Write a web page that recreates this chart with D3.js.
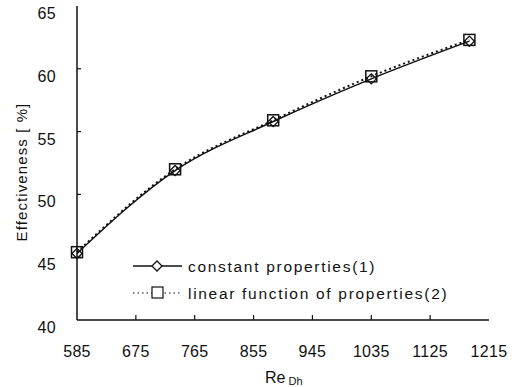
<!DOCTYPE html>
<html>
<head>
<meta charset="utf-8">
<script src="https://cdn.jsdelivr.net/npm/d3@7"></script>
<style>
  body { margin: 0; background: #fff; }
  text { font-family: "Liberation Sans", Arial, sans-serif; fill: #111; }
</style>
</head>
<body>
<div id="chart"></div>
<script>
// data
var reynolds = [585, 735, 885, 1035, 1185];
var constantProps = [45.3, 51.9, 55.8, 59.2, 62.2];
var linearProps = [45.4, 52.0, 55.9, 59.4, 62.3];
var xTicks = [585, 675, 765, 855, 945, 1035, 1125, 1215];
var yTicks = [40, 45, 50, 55, 60, 65];

var width = 512, height = 387;
var x = d3.scaleLinear().domain([585, 1215]).range([77, 489]);
var y = d3.scaleLinear().domain([40, 65]).range([320, 6]);

var svg = d3.select("#chart").append("svg")
    .attr("width", width)
    .attr("height", height);

// axes lines
svg.append("line")
    .attr("x1", x(585)).attr("x2", x(1215))
    .attr("y1", y(40)).attr("y2", y(40))
    .attr("stroke", "#111").attr("stroke-width", 1.5);
svg.append("line")
    .attr("x1", x(585)).attr("x2", x(585))
    .attr("y1", y(40)).attr("y2", y(65))
    .attr("stroke", "#111").attr("stroke-width", 1.5);

// x ticks (pointing up) and labels
svg.selectAll(".xtick").data(xTicks.slice(1, -1))
  .enter().append("line")
    .attr("x1", function(d) { return x(d); })
    .attr("x2", function(d) { return x(d); })
    .attr("y1", y(40)).attr("y2", y(40) - 5)
    .attr("stroke", "#111").attr("stroke-width", 1.2);

svg.selectAll(".xlab").data(xTicks)
  .enter().append("text")
    .attr("x", function(d) { return x(d); })
    .attr("y", 357)
    .attr("text-anchor", "middle")
    .style("font-size", "16px")
    .style("letter-spacing", "0.3px")
    .text(function(d) { return d; });

// y ticks (pointing right) and labels, labels sit a little below the ticks
svg.selectAll(".ytick").data(yTicks.slice(1, -1))
  .enter().append("line")
    .attr("x1", x(585)).attr("x2", x(585) + 4)
    .attr("y1", function(d) { return y(d); })
    .attr("y2", function(d) { return y(d); })
    .attr("stroke", "#111").attr("stroke-width", 1.2);

svg.selectAll(".ylab").data(yTicks)
  .enter().append("text")
    .attr("x", 56)
    .attr("y", function(d) { return y(d) + 13; })
    .attr("text-anchor", "end")
    .style("font-size", "16px")
    .style("letter-spacing", "0.3px")
    .text(function(d) { return d; });

// axis titles
svg.append("text")
    .attr("transform", "translate(27,172) rotate(-90)")
    .attr("text-anchor", "middle")
    .style("font-size", "15px")
    .style("letter-spacing", "1.1px")
    .text("Effectiveness [ %]");

var xt = svg.append("text")
    .attr("x", 265).attr("y", 383)
    .style("font-size", "16px");
xt.append("tspan").text("Re");
xt.append("tspan").attr("dx", 3).attr("dy", 2).style("font-size", "11px").text("Dh");

// lines
var line = d3.line()
    .x(function(d) { return x(d[0]); })
    .y(function(d) { return y(d[1]); })
    .curve(d3.curveMonotoneX);

var s1 = reynolds.map(function(r, i) { return [r, constantProps[i]]; });
var s2 = reynolds.map(function(r, i) { return [r, linearProps[i]]; });

svg.append("path").datum(s1)
    .attr("d", line)
    .attr("fill", "none").attr("stroke", "#111").attr("stroke-width", 1.5);

svg.append("path").datum(s2)
    .attr("d", line)
    .attr("fill", "none").attr("stroke", "#111").attr("stroke-width", 2)
    .attr("stroke-dasharray", "2,3");

// markers
var diamond = d3.symbol().type(d3.symbolDiamond2).size(65);
svg.selectAll(".sq").data(s2)
  .enter().append("rect")
    .attr("x", function(d) { return x(d[0]) - 5.5; })
    .attr("y", function(d) { return y(d[1]) - 5.5; })
    .attr("width", 11).attr("height", 11)
    .attr("fill", "none").attr("stroke", "#111").attr("stroke-width", 1.5);

svg.selectAll(".dm").data(s1)
  .enter().append("path")
    .attr("transform", function(d) { return "translate(" + x(d[0]) + "," + y(d[1]) + ")"; })
    .attr("d", diamond)
    .attr("fill", "none").attr("stroke", "#111").attr("stroke-width", 1.3);

// legend
var lg = svg.append("g");
lg.append("line").attr("x1", 133).attr("x2", 182).attr("y1", 266).attr("y2", 266)
    .attr("stroke", "#111").attr("stroke-width", 1.3);
lg.append("path").attr("transform", "translate(157,266)")
    .attr("d", diamond).attr("fill", "#fff").attr("stroke", "#111").attr("stroke-width", 1.3);
lg.append("text").attr("x", 188).attr("y", 272)
    .style("font-size", "15.5px").style("letter-spacing", "1.7px")
    .text("constant properties(1)");

lg.append("line").attr("x1", 133).attr("x2", 182).attr("y1", 293).attr("y2", 293)
    .attr("stroke", "#111").attr("stroke-width", 1.2).attr("stroke-dasharray", "1.5,3");
lg.append("rect").attr("x", 152).attr("y", 287).attr("width", 11).attr("height", 11)
    .attr("fill", "#fff").attr("stroke", "#111").attr("stroke-width", 1.2);
lg.append("text").attr("x", 188).attr("y", 299)
    .style("font-size", "15.5px").style("letter-spacing", "1.7px")
    .text("linear function of properties(2)");
</script>
</body>
</html>
